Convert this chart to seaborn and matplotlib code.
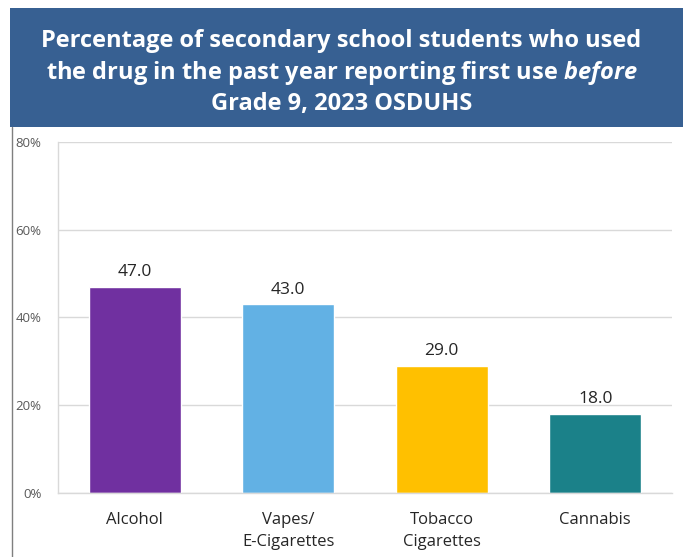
import numpy as np
import pandas as pd
import matplotlib
matplotlib.use("Agg")
import matplotlib.pyplot as plt
import seaborn as sns
from matplotlib.patches import Rectangle
from matplotlib.lines import Line2D

categories = ["Alcohol", "Vapes/\nE-Cigarettes", "Tobacco\nCigarettes", "Cannabis"]
values = [47.0, 43.0, 29.0, 18.0]
bar_colors = ["#7030A0", "#62B1E4", "#FFC000", "#1B8189"]
yticks = [0, 20, 40, 60, 80]
ytick_labels = ["0%", "20%", "40%", "60%", "80%"]

sns.set_theme(style="white")
plt.rcParams["font.family"] = ["Open Sans", "DejaVu Sans"]
plt.rcParams["mathtext.fontset"] = "custom"
plt.rcParams["mathtext.it"] = "Open Sans:italic:bold"

df = pd.DataFrame({"drug": categories, "pct": values})

fig = plt.figure(figsize=(6.83, 5.57), dpi=100)

# title box
fig.patches.append(Rectangle((0.0146, 0.772), 0.99, 0.214, transform=fig.transFigure,
                             facecolor="#376092", edgecolor="none", zorder=0))
fig.lines.append(Line2D([0.0176, 0.0176], [0.0, 0.772], transform=fig.transFigure,
                        color="#7f7f7f", lw=1))
fig.text(0.5, 0.870,
         "Percentage of secondary school students who used\n"
         "the drug in the past year reporting first use $\\it{before}$\n"
         "Grade 9, 2023 OSDUHS",
         ha="center", va="center", color="white", fontsize=17, fontweight="bold",
         linespacing=1.3)

ax = fig.add_axes([0.0849, 0.115, 0.899, 0.630])
sns.barplot(data=df, x="drug", y="pct", hue="drug", palette=bar_colors,
            width=0.6, saturation=1, legend=False, ax=ax)

for i, v in enumerate(values):
    ax.text(i, v + 1.5, f"{v:.1f}", ha="center", va="bottom", fontsize=12.5, color="#262626")

ax.set_ylim(0, 80)
ax.set_xlim(-0.5, 3.5)
ax.set_yticks(yticks)
ax.set_yticklabels(ytick_labels, fontsize=9.5, color="#595959")
ax.tick_params(axis="x", labelsize=12, labelcolor="#262626", pad=8)
ax.tick_params(axis="y", pad=12, length=0)
for lbl in ax.get_xticklabels():
    lbl.set_linespacing(1.45)
ax.set_xlabel("")
ax.set_ylabel("")
ax.yaxis.grid(True, color="#d9d9d9", lw=1)
ax.set_axisbelow(True)
for s in ["top", "right"]:
    ax.spines[s].set_visible(False)
for s in ["left", "bottom"]:
    ax.spines[s].set_color("#d9d9d9")
    ax.spines[s].set_linewidth(1)

fig.savefig("out.png", dpi=100)
